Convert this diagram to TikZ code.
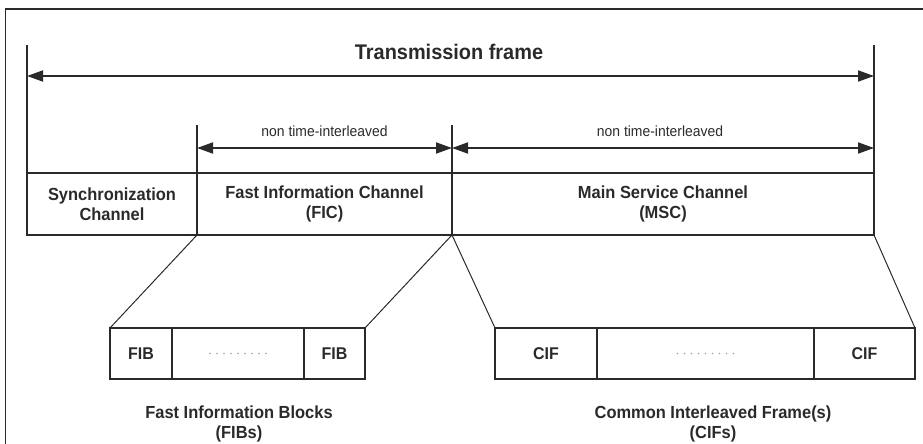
\documentclass[tikz,border=0pt]{standalone}
\usepackage{fontspec}
\setmainfont{Liberation Sans}[FakeStretch=0.94]
\usetikzlibrary{arrows.meta}
\definecolor{ink}{HTML}{2A2A2A}
\begin{document}
\begin{tikzpicture}[x=1pt,y=-1pt,
  every node/.style={inner sep=0pt,outer sep=0pt,text=ink},
  chan/.style={draw=ink,line width=1.8pt,rectangle,minimum height=62pt,align=center,
    font=\fontsize{17.5}{20.5}\selectfont\bfseries},
  cell/.style={draw=ink,line width=1.6pt,rectangle,minimum height=51pt,
    font=\fontsize{17}{19}\selectfont\bfseries},
  span/.style={line width=1.8pt,draw=ink,{Triangle[length=16pt,width=11pt]}-{Triangle[length=16pt,width=11pt]}},
  tick/.style={line width=1.6pt,draw=ink},
  fan/.style={line width=1pt,draw=ink},
  note/.style={font=\fontsize{14.8}{17}\selectfont},
  caption/.style={align=center,font=\fontsize{17.5}{20.5}\selectfont\bfseries},
  dot/.style={fill=gray!70,draw=none}]
\useasboundingbox (0,0) rectangle (923,444);
% outer frame
\draw[line width=1.2pt,draw=ink] (5.5,9) rectangle (940,460);

% channel row
\node[chan,minimum width=170pt] (sync) at (112,204) {Synchronization\\Channel};
\node[chan,minimum width=255pt] (fic) at (324.5,204) {Fast Information Channel\\(FIC)};
\node[chan,minimum width=422pt] (msc) at (663,204) {Main Service Channel\\(MSC)};

% extension lines above the row
\coordinate (tl) at (27,45);
\coordinate (tr) at (874,45);
\coordinate (fl) at (197,125);
\coordinate (fm) at (452,125);
\draw[tick] (sync.north west) -- (tl);
\draw[tick] (msc.north east) -- (tr);
\draw[tick] (fic.north west) -- (fl);
\draw[tick] (fic.north east) -- (fm);

% span arrows
\coordinate (al) at (27,76);
\coordinate (ar) at (874,76);
\draw[span] (al) -- (ar);
\node[font=\fontsize{21.2}{24}\selectfont\bfseries] (title) at (449,52) {Transmission frame};

\coordinate (bl) at (197,148);
\coordinate (bm) at (452,148);
\coordinate (br) at (874,148);
\draw[span] (bl) -- (bm);
\draw[span] (bm) -- (br);
\node[note] (ni1) at (324.5,131) {non time-interleaved};
\node[note] (ni2) at (660,131) {non time-interleaved};

% fast information blocks
\node[cell,minimum width=62pt] (fib1) at (141,353.5) {FIB};
\node[cell,minimum width=132pt] (fibm) at (238,353.5) {};
\node[cell,minimum width=61pt] (fib2) at (334.5,353.5) {FIB};
\foreach \i in {-4,...,4} \fill[dot] ([xshift=\i*7pt]fibm.center) circle (0.8pt);

% common interleaved frames
\node[cell,minimum width=102pt] (cif1) at (546,353.5) {CIF};
\node[cell,minimum width=217pt] (cifm) at (705.5,353.5) {};
\node[cell,minimum width=101pt] (cif2) at (864.5,353.5) {CIF};
\foreach \i in {-4,...,4} \fill[dot] ([xshift=\i*7pt]cifm.center) circle (0.8pt);

% fan-out lines
\draw[fan] (fic.south west) -- (fib1.north west);
\draw[fan] (fic.south east) -- (fib2.north east);
\draw[fan] (msc.south west) -- (cif1.north west);
\draw[fan] (msc.south east) -- (cif2.north east);

% captions
\node[caption] (fibcap) at (239,424) {Fast Information Blocks\\(FIBs)};
\node[caption] (cifcap) at (713,424) {Common Interleaved Frame(s)\\(CIFs)};
\end{tikzpicture}
\end{document}
